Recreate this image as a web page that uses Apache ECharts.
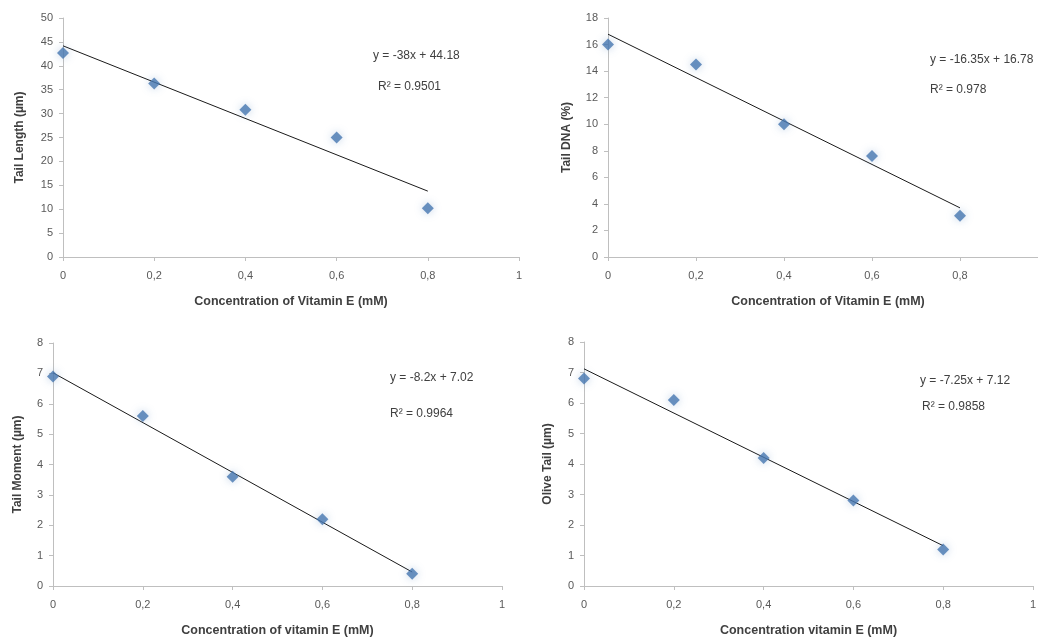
<!DOCTYPE html>
<html><head><meta charset="utf-8">
<script src="https://cdn.jsdelivr.net/npm/echarts@6/dist/echarts.min.js"></script>
<style>html,body{margin:0;padding:0;background:#fff}#c{width:1038px;height:642px}</style>
</head><body><div id="c"></div>
<script>
// ---- data ----
const concentrations = [0, 0.2, 0.4, 0.6, 0.8];
const tailLength = [42.7, 36.3, 30.8, 25.0, 10.2];
const tailDNA = [16.0, 14.5, 10.0, 7.6, 3.1];
const tailMoment = [6.9, 5.6, 3.6, 2.2, 0.4];
const oliveTail = [6.8, 6.1, 4.2, 2.8, 1.2];
const slopes = [-38, -16.35, -8.2, -7.25];
const intercepts = [44.18, 16.78, 7.02, 7.12];
const equations = ['y = -38x + 44.18', 'y = -16.35x + 16.78', 'y = -8.2x + 7.02', 'y = -7.25x + 7.12'];
const r2Labels = ['R² = 0.9501', 'R² = 0.978', 'R² = 0.9964', 'R² = 0.9858'];
const yNames = ['Tail Length (µm)', 'Tail DNA (%)', 'Tail Moment (µm)', 'Olive Tail (µm)'];
const xNames = ['Concentration of Vitamin E (mM)', 'Concentration of Vitamin E (mM)', 'Concentration of vitamin E (mM)', 'Concentration vitamin E (mM)'];
const yMax = [50, 18, 8, 8];
const yStep = [5, 2, 1, 1];
const seriesValues = [tailLength, tailDNA, tailMoment, oliveTail];

// ---- layout ----
const grids = [
  {left: 63, top: 18, width: 456, height: 239},
  {left: 608, top: 18, width: 440, height: 239},
  {left: 53, top: 343, width: 449, height: 243},
  {left: 584, top: 342, width: 449, height: 244}
];
const yNameGaps = [37, 35, 29, 30];
const textPos = [
  [{x: 373, y: 50}, {x: 378, y: 81}],
  [{x: 930, y: 54}, {x: 930, y: 84}],
  [{x: 390, y: 372}, {x: 390, y: 408}],
  [{x: 920, y: 375}, {x: 922, y: 401}]
];

const fmt = v => String(Math.round(v * 10) / 10).replace('.', ',');
const axisColor = '#bfbfbf';
const labelColor = '#595959';
const fontFam = '"Liberation Sans", "DejaVu Sans", sans-serif';

const xAxes = [], yAxes = [], series = [], graphics = [];
grids.forEach((g, i) => {
  xAxes.push({
    gridIndex: i, type: 'value', min: 0, max: 1, interval: 0.2,
    name: xNames[i], nameLocation: 'middle', nameGap: 38,
    nameTextStyle: {color: '#404040', fontSize: 12.5, fontWeight: 'bold', fontFamily: fontFam},
    axisLine: {show: true, lineStyle: {color: axisColor}},
    axisTick: {show: true, length: 4, lineStyle: {color: axisColor}},
    axisLabel: {color: labelColor, fontSize: 11, margin: 13, formatter: fmt, fontFamily: fontFam},
    splitLine: {show: false}
  });
  yAxes.push({
    gridIndex: i, type: 'value', min: 0, max: yMax[i], interval: yStep[i],
    name: yNames[i], nameLocation: 'middle', nameGap: yNameGaps[i], nameRotate: 90,
    nameTextStyle: {color: '#404040', fontSize: 12, fontWeight: 'bold', fontFamily: fontFam},
    axisLine: {show: true, lineStyle: {color: axisColor}},
    axisTick: {show: true, length: 4, lineStyle: {color: axisColor}},
    axisLabel: {color: labelColor, fontSize: 11, margin: 10, fontFamily: fontFam},
    splitLine: {show: false}
  });
  series.push({
    type: 'line', xAxisIndex: i, yAxisIndex: i, showSymbol: false, silent: true,
    data: [concentrations[0], concentrations[concentrations.length - 1]].map(x => [x, slopes[i] * x + intercepts[i]]),
    lineStyle: {color: '#1a1a1a', width: 1}, z: 2
  });
  series.push({
    type: 'scatter', xAxisIndex: i, yAxisIndex: i, symbol: 'diamond', symbolSize: 12,
    data: concentrations.map((x, k) => [x, seriesValues[i][k]]),
    itemStyle: {color: '#4677b0', shadowBlur: 8, shadowColor: 'rgba(79,129,189,0.45)'}, z: 3
  });
  graphics.push({type: 'text', x: textPos[i][0].x, y: textPos[i][0].y,
    style: {text: equations[i], fill: '#404040', font: '12px ' + fontFam}});
  graphics.push({type: 'text', x: textPos[i][1].x, y: textPos[i][1].y,
    style: {text: r2Labels[i], fill: '#404040', font: '12px ' + fontFam}});
});

const chart = echarts.init(document.getElementById('c'), null, {renderer: 'canvas'});
chart.setOption({
  animation: false,
  backgroundColor: '#fff',
  grid: grids.map(g => Object.assign({containLabel: false, outerBoundsMode: 'none'}, g)),
  xAxis: xAxes, yAxis: yAxes, series: series, graphic: graphics
});
</script></body></html>
